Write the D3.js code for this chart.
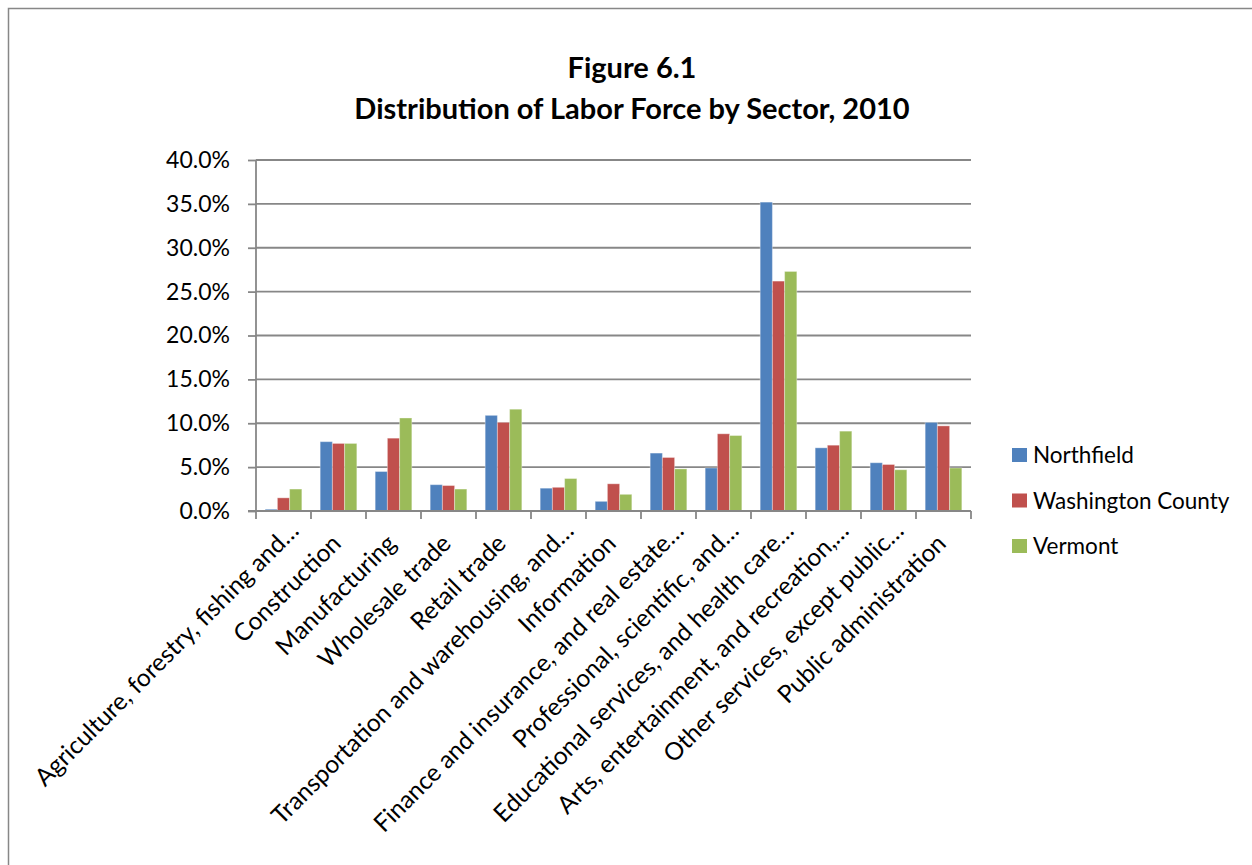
<!DOCTYPE html>
<html>
<head>
    <meta charset="utf-8" />
    <title>Distribution of Labor Force by Sector, 2010</title>
    <script src="https://d3js.org/d3.v7.min.js"></script>
    <style>
        body { margin: 0; background: #fff; }
        text { font-family: Lato, "Open Sans", sans-serif; fill: #000; }
        .title { font-weight: bold; font-size: 29px; }
        .yAxis text { font-size: 23px; }
        .legend text { font-size: 22.5px; }
    </style>
</head>
<body>
    <div id="chart"></div>

    <script>
        // data (percent of labor force)
        var categories = [
            "Agriculture, forestry, fishing and\u2026",
            "Construction",
            "Manufacturing",
            "Wholesale trade",
            "Retail trade",
            "Transportation and warehousing, and\u2026",
            "Information",
            "Finance and insurance, and real estate\u2026",
            "Professional, scientific, and\u2026",
            "Educational services, and health care\u2026",
            "Arts, entertainment, and recreation,\u2026",
            "Other services, except public\u2026",
            "Public administration"
        ];
        var seriesNames = ["Northfield", "Washington County", "Vermont"];
        var northfield = [0.2, 7.9, 4.5, 3.0, 10.9, 2.6, 1.1, 6.6, 4.9, 35.2, 7.2, 5.5, 10.1];
        var washington = [1.5, 7.7, 8.3, 2.9, 10.1, 2.7, 3.1, 6.1, 8.8, 26.2, 7.5, 5.3, 9.7];
        var vermont = [2.5, 7.7, 10.6, 2.5, 11.6, 3.7, 1.9, 4.8, 8.6, 27.3, 9.1, 4.7, 4.9];
        var yTicks = [0, 5, 10, 15, 20, 25, 30, 35, 40];

        var seriesValues = [northfield, washington, vermont];
        var colors = ["#4f81bd", "#c0504d", "#9bbb59"];
        var gridColor = "#878787";

        var W = 1252, H = 865;
        var margin = { top: 160, left: 256, right: 281, bottom: 354 };

        var svg = d3.select("#chart").append("svg")
            .attr("width", W)
            .attr("height", H);

        // chart area border (runs off the right and bottom of the picture)
        svg.append("path")
            .attr("d", "M8.5," + H + " V8.5 H" + W)
            .attr("fill", "none")
            .attr("stroke", gridColor)
            .attr("stroke-width", 1.5);

        // titles
        svg.append("text").attr("class", "title")
            .attr("x", 632).attr("y", 78)
            .attr("text-anchor", "middle")
            .text("Figure  6.1");
        svg.append("text").attr("class", "title")
            .attr("x", 632).attr("y", 119)
            .attr("text-anchor", "middle")
            .text("Distribution of Labor Force by Sector, 2010");

        // scales
        var x0 = d3.scaleBand()
            .domain(categories)
            .range([margin.left, W - margin.right]);
        var x1 = d3.scaleBand()
            .domain(seriesNames)
            .range([0, x0.bandwidth()])
            .paddingOuter(0.75);
        var y = d3.scaleLinear()
            .domain([0, 40])
            .range([H - margin.bottom, margin.top]);

        // gridlines
        svg.append("g")
            .selectAll("line")
            .data(yTicks.slice(1))
            .join("line")
            .attr("x1", margin.left)
            .attr("x2", W - margin.right)
            .attr("y1", function (d) { return y(d); })
            .attr("y2", function (d) { return y(d); })
            .attr("stroke", gridColor)
            .attr("stroke-width", 1.8);

        // bars
        var groups = svg.append("g")
            .selectAll("g")
            .data(seriesNames)
            .join("g")
            .attr("fill", function (d, i) { return colors[i]; });

        groups.selectAll("rect")
            .data(function (d, i) {
                return seriesValues[i].map(function (v, j) {
                    return { cat: categories[j], s: d, v: v };
                });
            })
            .join("rect")
            .attr("x", function (d) { return x0(d.cat) + x1(d.s); })
            .attr("width", x1.bandwidth())
            .attr("y", function (d) { return y(d.v); })
            .attr("height", function (d) { return y(0) - y(d.v); })
            .attr("stroke", "rgba(255,255,255,0.35)")
            .attr("stroke-width", 1);

        // y axis
        var yAxis = svg.append("g")
            .attr("class", "yAxis")
            .attr("transform", "translate(" + margin.left + ",0)")
            .call(d3.axisLeft(y)
                .tickValues(yTicks)
                .tickSize(8)
                .tickPadding(18)
                .tickFormat(function (d) { return d.toFixed(1) + "%"; }));
        yAxis.selectAll("line, path").attr("stroke", gridColor).attr("stroke-width", 1.8);
        yAxis.select(".domain").attr("d", "M0," + y(0) + "V" + y(40));
        yAxis.selectAll("text").attr("fill", "#000");
        yAxis.attr("font-family", null).attr("font-size", null);

        // x axis with category boundary ticks
        var xAxis = svg.append("g")
            .attr("transform", "translate(0," + y(0) + ")");
        xAxis.append("line")
            .attr("x1", margin.left - 8).attr("x2", W - margin.right)
            .attr("stroke", gridColor).attr("stroke-width", 1.8);
        xAxis.selectAll("line.tk")
            .data(d3.range(categories.length + 1))
            .join("line")
            .attr("class", "tk")
            .attr("x1", function (i) { return margin.left + i * x0.step(); })
            .attr("x2", function (i) { return margin.left + i * x0.step(); })
            .attr("y1", 0).attr("y2", 8)
            .attr("stroke", gridColor).attr("stroke-width", 1.8);

        xAxis.selectAll("text")
            .data(categories)
            .join("text")
            .attr("text-anchor", "end")
            .attr("transform", function (d) {
                return "translate(" + (x0(d) + x0.bandwidth() / 2 + 4) + ",34) rotate(-45)";
            })
            .attr("dx", function (d) { return d.slice(-1) == "\u2026" ? 18 : 0; })
            .style("font-size", "24.5px")
            .text(function (d) { return d; });

        // legend
        var legend = svg.append("g").attr("class", "legend")
            .attr("transform", "translate(1012,455)");
        var items = legend.selectAll("g")
            .data(seriesNames)
            .join("g")
            .attr("transform", function (d, i) { return "translate(0," + i * 45.5 + ")"; });
        items.append("rect")
            .attr("x", 0).attr("y", -7)
            .attr("width", 15).attr("height", 14)
            .attr("fill", function (d, i) { return colors[i]; });
        items.append("text")
            .attr("x", 21).attr("y", 8)
            .text(function (d) { return d; });
    </script>
</body>
</html>
